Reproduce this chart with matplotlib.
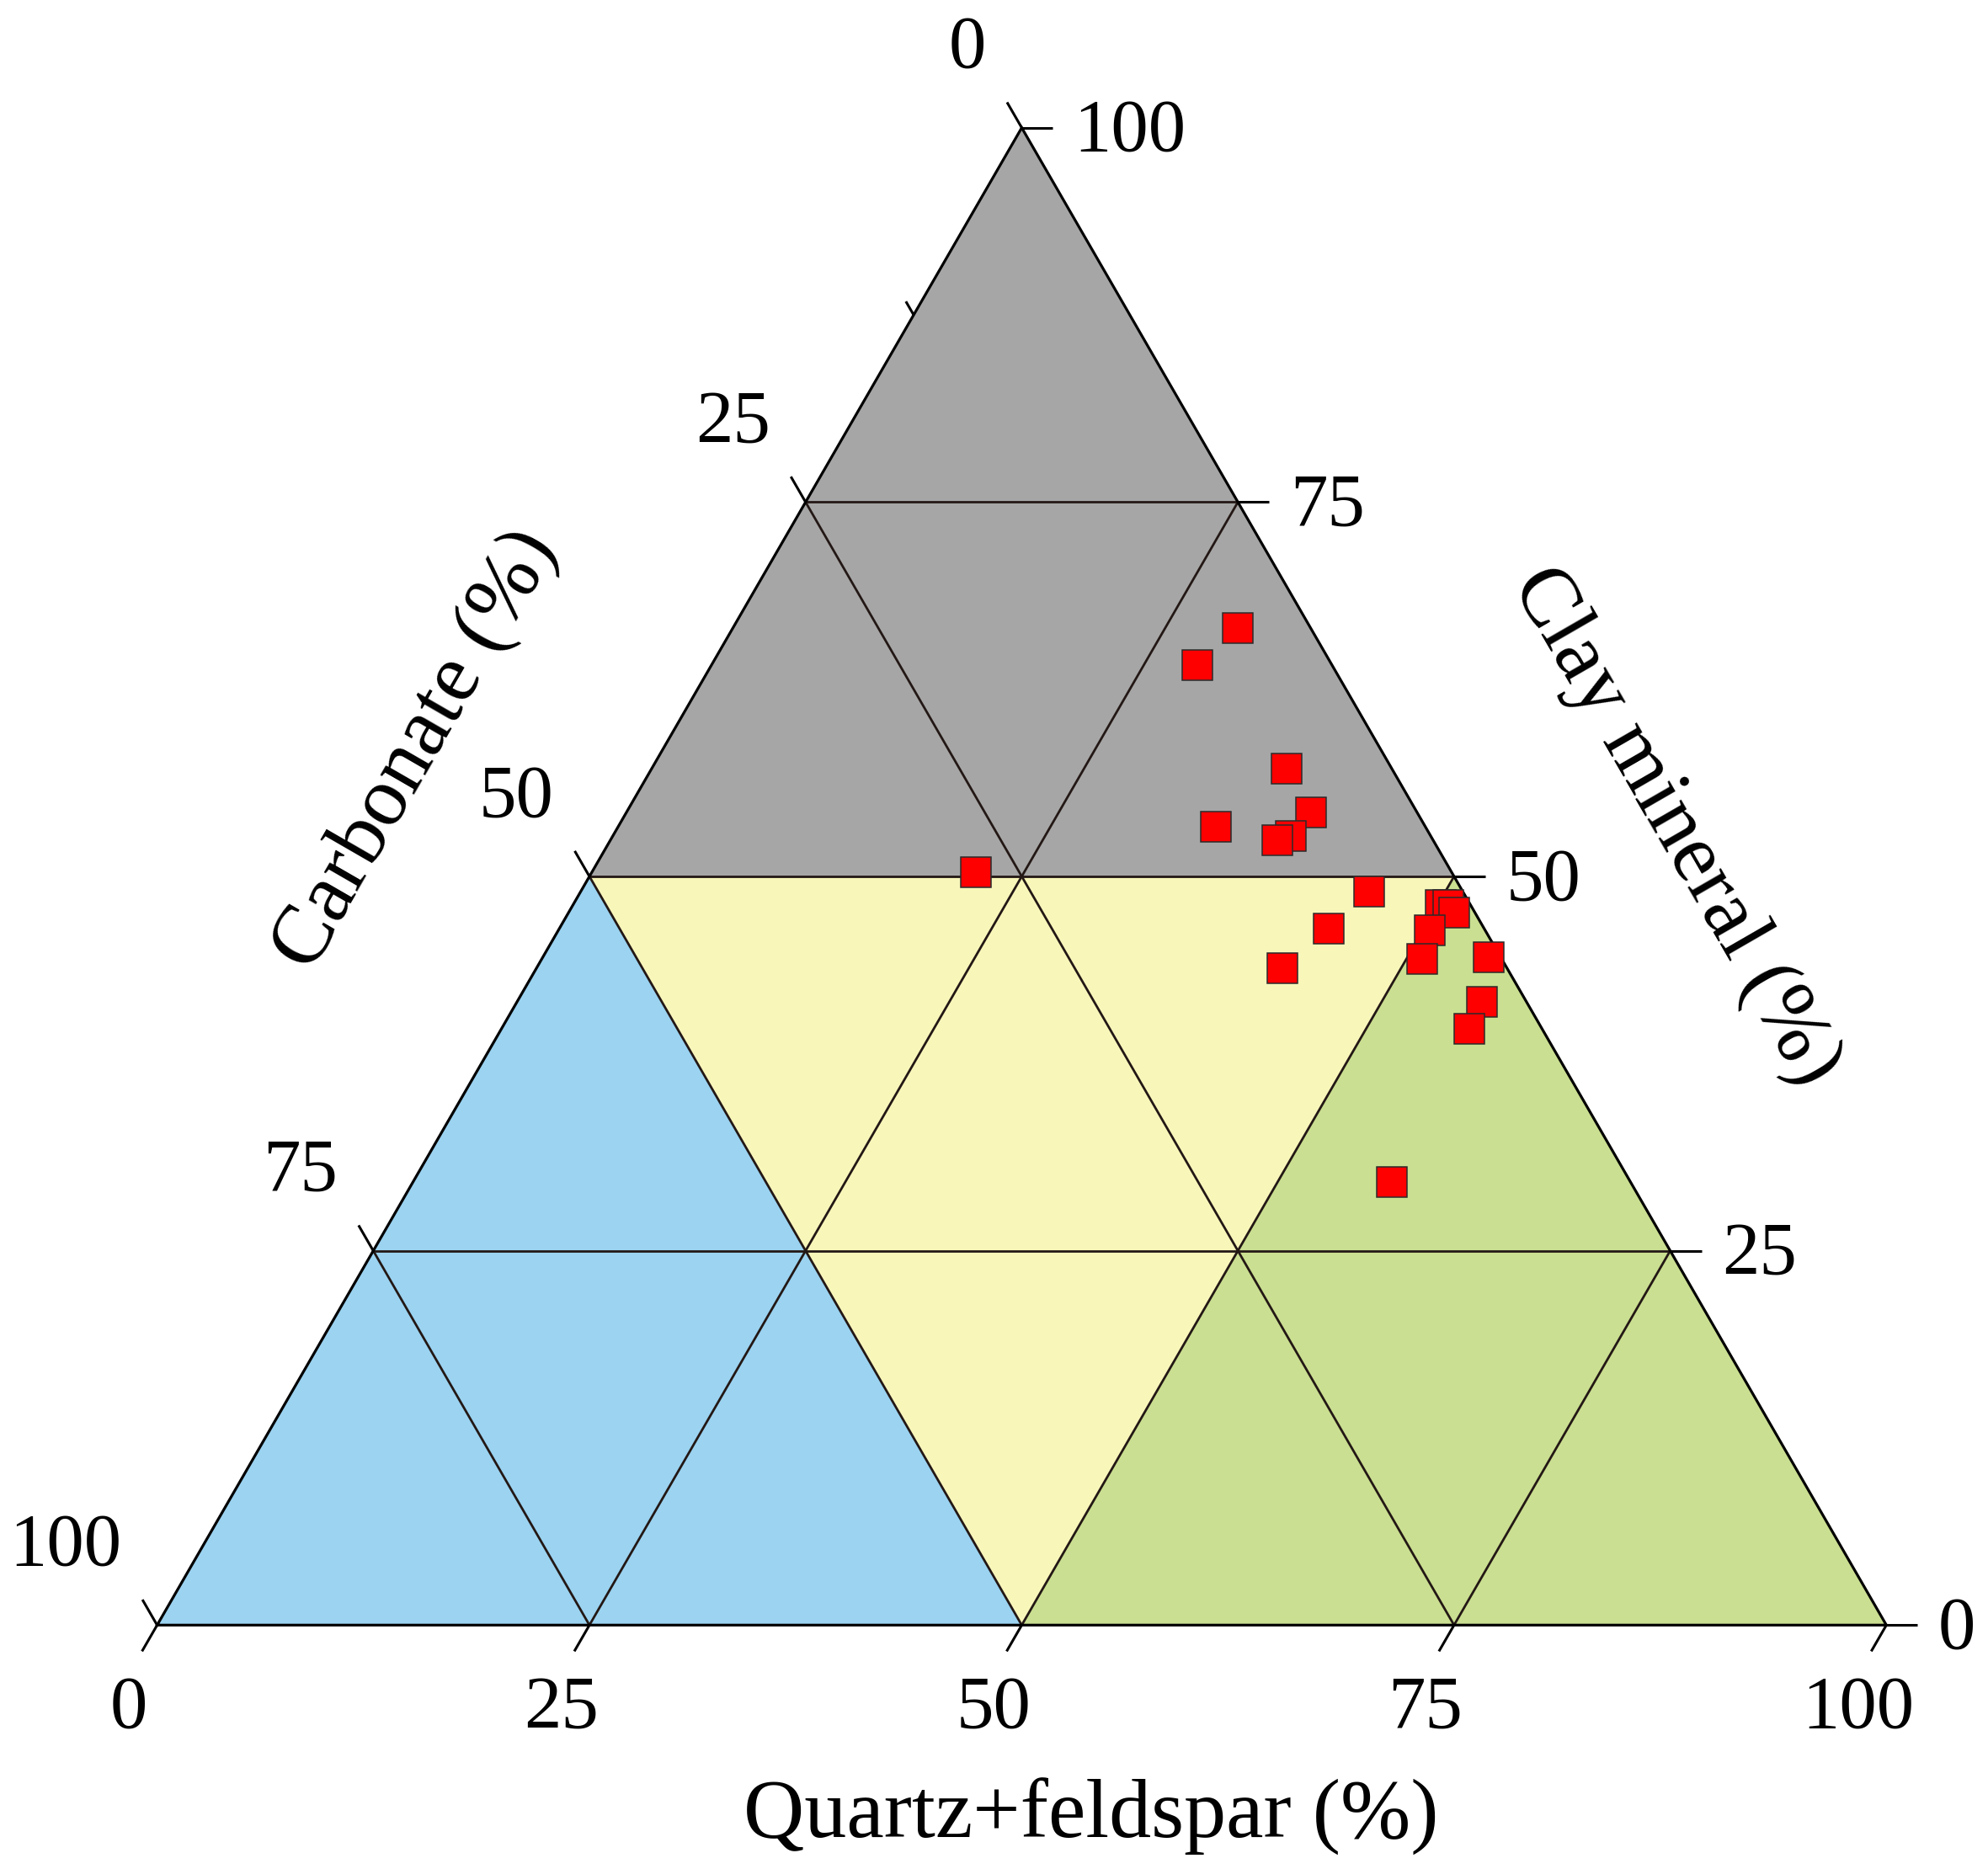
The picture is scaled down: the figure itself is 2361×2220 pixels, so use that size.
import numpy as np
import matplotlib
matplotlib.use("Agg")
import matplotlib.pyplot as plt

# ---------------- data (percent) ----------------
quartz_feldspar = [29.2, 28.1, 36.7, 39.6, 34.6, 39.2, 38.6, 45.6, 44.5, 43.1,
                   50.2, 50.6, 51.2, 50.4, 50.9, 54.7, 55.8, 56.0, 22.2, 56.6]
clay_mineral = [66.6, 64.1, 57.2, 54.3, 53.3, 52.7, 52.4, 49.0, 46.5, 43.9,
                48.1, 48.1, 47.6, 46.4, 44.5, 44.6, 41.6, 39.8, 50.3, 29.6]
carbonate = [4.2, 7.8, 6.1, 6.1, 12.1, 8.1, 9.0, 5.4, 9.0, 13.0,
             1.7, 1.3, 1.2, 3.2, 4.6, 0.7, 2.6, 4.2, 27.5, 13.8]

tick_values = [0, 25, 50, 75, 100]
grid_values = [25, 50, 75]
minor_carbonate_ticks = [12.5]
title_bottom = "Quartz+feldspar (%)"
title_left = "Carbonate (%)"
title_right = "Clay mineral (%)"

# regions given as (quartz+feldspar, clay) vertices
regions = {
    "clay":      ([(0, 50), (50, 50), (0, 100)], "#A6A6A6"),
    "carbonate": ([(0, 0), (50, 0), (0, 50)], "#9BD3F1"),
    "quartz":    ([(50, 0), (100, 0), (50, 50)], "#CADF91"),
    "mixed":     ([(0, 50), (50, 50), (50, 0)], "#F9F6BA"),
}

plt.rcParams["font.family"] = ["Liberation Serif", "DejaVu Serif"]

R3 = np.sqrt(3) / 2


def tern(q, c):
    q = np.asarray(q, float)
    c = np.asarray(c, float)
    return q + c / 2.0, c * R3


# ---------------- figure / layout ----------------
W, H = 2361, 2220
S = 20.537          # pixels per percent unit
LEFT_PX = 186.6     # x pixel of the Carbonate=100 corner
BASE_PX = 1930.3    # y pixel (from top) of the base line

fig = plt.figure(figsize=(W / 100, H / 100), dpi=100)
ax = fig.add_axes([0, 0, 1, 1])
ax.set_xlim(-LEFT_PX / S, (W - LEFT_PX) / S)
ax.set_ylim(-(H - BASE_PX) / S, BASE_PX / S)
ax.axis("off")

# filled regions
for name, (verts, col) in regions.items():
    q, c = zip(*verts)
    x, y = tern(q, c)
    ax.fill(x, y, color=col, lw=0, zorder=1)

grid_kw = dict(color="#231815", lw=2.0, zorder=2, solid_capstyle="butt")
for v in grid_values:
    x, y = tern([0, 100 - v], [v, v])          # constant clay
    ax.plot(x, y, **grid_kw)
    x, y = tern([v, v], [0, 100 - v])          # constant quartz+feldspar
    ax.plot(x, y, **grid_kw)
    x, y = tern([0, 100 - v], [100 - v, 0])    # constant carbonate
    ax.plot(x, y, **grid_kw)

# triangle outline
x, y = tern([0, 100, 0, 0], [0, 0, 100, 0])
ax.plot(x, y, color="black", lw=2.3, zorder=3, solid_joinstyle="miter")

tick_kw = dict(color="black", lw=2.2, zorder=3, solid_capstyle="butt")
TL = 1.75
FS_TICK = 64
for v in tick_values:
    # bottom axis (quartz+feldspar)
    x0, y0 = tern(v, 0)
    ax.plot([x0, x0 - 0.5 * TL], [y0, y0 - R3 * TL], **tick_kw)
    ax.text(x0 - 1.65, y0 - 5.91, str(v), ha="center", va="baseline",
            fontsize=FS_TICK)
    # right axis (clay)
    x0, y0 = tern(100 - v, v)
    ax.plot([x0, x0 + 1.8], [y0, y0], **tick_kw)
    ax.text(x0 + 3.0, y0 - 1.33, str(v), ha="left", va="baseline",
            fontsize=FS_TICK)
    # left axis (carbonate)
    x0, y0 = tern(0, 100 - v)
    ax.plot([x0, x0 - 0.5 * 1.7], [y0, y0 + R3 * 1.7], **tick_kw)
    ax.text(x0 - 2.05, y0 + 3.5, str(v), ha="right", va="baseline",
            fontsize=FS_TICK)

for v in minor_carbonate_ticks:
    x0, y0 = tern(0, 100 - v)
    ax.plot([x0, x0 - 0.5 * 0.9], [y0, y0 + R3 * 0.9], **tick_kw)

# data points
px, py = tern(quartz_feldspar, clay_mineral)
for xi, yi in zip(px, py):
    ax.plot(xi, yi, marker="s", ms=26, mfc="#FF0000", mec="#2b2b2b",
            mew=1.1, ls="none", zorder=5)

# axis titles
ax.text(54.0, -12.3, title_bottom, ha="center", va="baseline", fontsize=72)
ax.text(15.0, 50.6, title_left, ha="center", va="center", rotation=60,
        rotation_mode="anchor", fontsize=72)
ax.text(87.8, 46.2, title_right, ha="center", va="center", rotation=-60,
        rotation_mode="anchor", fontsize=72)

fig.savefig("out.png", dpi=100)
